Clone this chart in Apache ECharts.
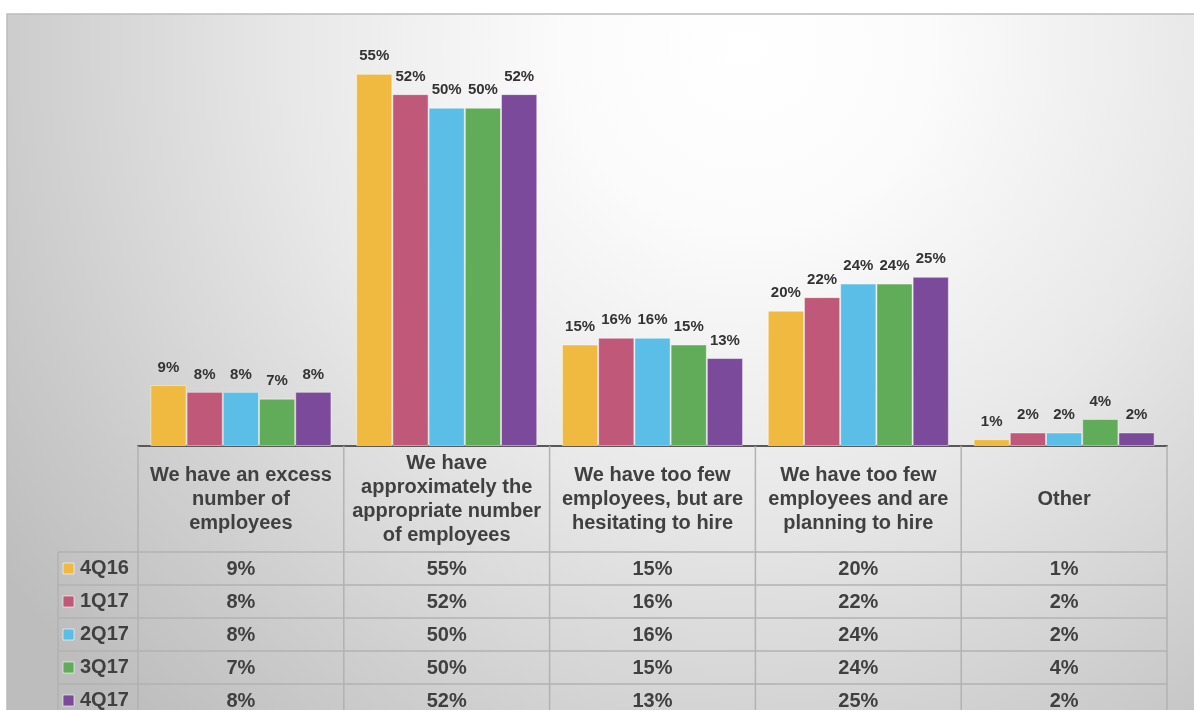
<!DOCTYPE html>
<html><head><meta charset="utf-8">
<script src="https://cdn.jsdelivr.net/npm/echarts@6/dist/echarts.min.js"></script>
<style>html,body{margin:0;padding:0;background:#fff}#c{width:1194px;height:710px}</style>
</head><body><div id="c"></div>
<script>
const categories = [
  'We have an excess\nnumber of\nemployees',
  'We have\napproximately the\nappropriate number\nof employees',
  'We have too few\nemployees, but are\nhesitating to hire',
  'We have too few\nemployees and are\nplanning to hire',
  'Other'
];
const seriesNames = ['4Q16', '1Q17', '2Q17', '3Q17', '4Q17'];
const v4Q16 = [9, 55, 15, 20, 1];
const v1Q17 = [8, 52, 16, 22, 2];
const v2Q17 = [8, 50, 16, 24, 2];
const v3Q17 = [7, 50, 15, 24, 4];
const v4Q17 = [8, 52, 13, 25, 2];
const seriesValues = [v4Q16, v1Q17, v2Q17, v3Q17, v4Q17];
const colors = ['#EFBA3F', '#C0587A', '#5BBEE6', '#60AC58', '#7C4A9A'];

const FONT = '"Liberation Sans", Arial, sans-serif';
const TXT = '#404040';

const chart = echarts.init(document.getElementById('c'), null, {renderer: 'canvas'});

const bgRect = {
  type: 'rect', z: -10, silent: true,
  shape: {x: 7, y: 14, width: 1194, height: 700},
  style: {
    fill: {type: 'radial', x: 0.62, y: 0.05, r: 1.3, colorStops: [
      {offset: 0, color: '#ffffff'},
      {offset: 0.2, color: '#fbfbfb'},
      {offset: 0.5, color: '#e8e8e8'},
      {offset: 0.85, color: '#c9c9c9'},
      {offset: 1, color: '#bdbdbd'}
    ]},
    stroke: '#bcbcbc', lineWidth: 1.5
  }
};

chart.setOption({
  animation: false,
  backgroundColor: '#ffffff',
  grid: {left: 138, right: 27, top: 40, bottom: 264},
  xAxis: {
    type: 'category', data: categories,
    axisLine: {show: true, lineStyle: {color: '#595959', width: 2}},
    axisTick: {show: false},
    axisLabel: {
      interval: 0, margin: 53, verticalAlign: 'middle', align: 'center',
      fontFamily: FONT, fontWeight: 'bold', fontSize: 20, lineHeight: 24, color: TXT
    }
  },
  yAxis: {type: 'value', min: 0, max: 60, show: false, splitLine: {show: false}},
  series: seriesNames.map((name, i) => ({
    name, type: 'bar', data: seriesValues[i],
    barGap: '0%', barCategoryGap: '12%',
    itemStyle: {color: colors[i], borderColor: 'rgba(255,255,255,0.45)', borderWidth: 1},
    label: {
      show: true, position: 'top', distance: 10,
      formatter: p => p.value + '%',
      fontFamily: FONT, fontWeight: 'bold', fontSize: 15, color: '#333333'
    }
  })),
  graphic: [bgRect]
});

// Build the data table beneath the axis from the axis scale
function buildTable() {
  const n = categories.length;
  const c0 = chart.convertToPixel({xAxisIndex: 0}, 0);
  const c1 = chart.convertToPixel({xAxisIndex: 0}, 1);
  const band = c1 - c0;
  const left = c0 - band / 2;
  const right = c0 + band * (n - 0.5);
  const base = chart.convertToPixel({yAxisIndex: 0}, 0);
  const headerH = 106, rowH = 33;
  const labelLeft = left - 80;
  const bottom = 760;
  const lineStyle = {stroke: '#b2b2b2', lineWidth: 1.5};
  const els = [bgRect];
  // vertical lines
  for (let k = 0; k <= n; k++) {
    const x = left + band * k;
    els.push({type: 'line', z: 5, silent: true, shape: {x1: x, y1: base, x2: x, y2: bottom}, style: lineStyle});
  }
  els.push({type: 'line', z: 5, silent: true, shape: {x1: labelLeft, y1: base + headerH, x2: labelLeft, y2: bottom}, style: lineStyle});
  // horizontal lines
  for (let r = 0; r < seriesNames.length; r++) {
    const y = base + headerH + rowH * r;
    els.push({type: 'line', z: 5, silent: true, shape: {x1: labelLeft, y1: y, x2: right, y2: y}, style: lineStyle});
  }
  // rows
  seriesNames.forEach((name, r) => {
    const yc = base + headerH + rowH * r + rowH / 2;
    els.push({type: 'rect', z: 6, silent: true, shape: {x: labelLeft + 5, y: yc - 5.5, width: 11, height: 11},
      style: {fill: colors[r], stroke: 'rgba(255,255,255,0.6)', lineWidth: 1}});
    els.push({type: 'text', z: 6, silent: true, x: labelLeft + 22, y: yc,
      style: {text: name, fontFamily: FONT, fontWeight: 'bold', fontSize: 20, fill: TXT, align: 'left', verticalAlign: 'middle'}});
    seriesValues[r].forEach((v, i) => {
      els.push({type: 'text', z: 6, silent: true, x: c0 + band * i, y: yc + 1,
        style: {text: v + '%', fontFamily: FONT, fontWeight: 'bold', fontSize: 20, fill: TXT, align: 'center', verticalAlign: 'middle'}});
    });
  });
  chart.setOption({graphic: els}, {replaceMerge: ['graphic']});
}
buildTable();
</script>
</body></html>
